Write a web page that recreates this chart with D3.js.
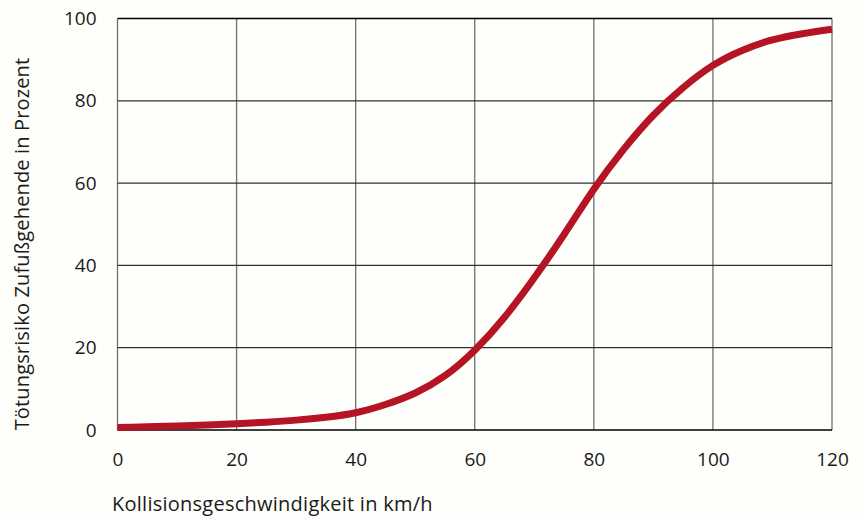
<!DOCTYPE html>
<html>
<head>
<meta charset="utf-8">
<script src="https://cdn.jsdelivr.net/npm/d3@7"></script>
<style>
  html, body { margin: 0; padding: 0; background: #fefefb; }
  svg { display: block; font-family: "Open Sans", sans-serif; }
</style>
</head>
<body>
<svg id="chart" width="860" height="517"></svg>
<script>
// speed in km/h and fatality risk in percent
const speeds = [0, 5, 10, 15, 20, 25, 30, 35, 40, 45, 50, 55, 60, 65, 70, 75, 80, 85, 90, 95, 100, 105, 110, 115, 120]
const risk = [0.6, 0.8, 1.0, 1.2, 1.5, 1.9, 2.4, 3.1, 4.2, 6.2, 9.0, 13.2, 19.4, 27.4, 37, 47.5, 58.5, 68.2, 76.5, 83.2, 88.6, 92.3, 94.8, 96.3, 97.4]

const xTicks = [0, 20, 40, 60, 80, 100, 120]
const yTicks = [0, 20, 40, 60, 80, 100]

const xTitle = 'Kollisionsgeschwindigkeit in km/h'
const yTitle = 'Tötungsrisiko Zufußgehende in Prozent'

const svg = d3.select('#chart')

const plotLeft = 117.5
const plotRight = 832
const plotTop = 18.5
const plotBottom = 430

const x = d3.scaleLinear().domain([0, 120]).range([plotLeft, plotRight])
const y = d3.scaleLinear().domain([0, 100]).range([plotBottom, plotTop])

// vertical grid lines (grey)
svg.append('g')
    .selectAll('line')
    .data(xTicks)
    .join('line')
    .attr('x1', d => x(d))
    .attr('x2', d => x(d))
    .attr('y1', plotTop)
    .attr('y2', plotBottom)
    .attr('stroke', '#707070')
    .attr('stroke-width', 1.3)

// horizontal grid lines (darker), top and bottom black
svg.append('g')
    .selectAll('line')
    .data(yTicks)
    .join('line')
    .attr('x1', plotLeft)
    .attr('x2', plotRight)
    .attr('y1', d => y(d))
    .attr('y2', d => y(d))
    .attr('stroke', d => (d == 0 || d == 100) ? '#000' : '#303030')
    .attr('stroke-width', 1.3)

// tick labels
svg.append('g')
    .attr('transform', 'translate(0,' + plotBottom + ')')
    .call(d3.axisBottom(x).tickValues(xTicks).tickSize(0).tickPadding(23))
    .call(g => g.select('.domain').remove())
    .selectAll('text')
    .attr('font-size', 19)
    .attr('font-family', '"Open Sans", sans-serif')
    .attr('fill', '#1a1a1a')

svg.append('g')
    .attr('transform', 'translate(' + plotLeft + ',0)')
    .call(d3.axisLeft(y).tickValues(yTicks).tickSize(0).tickPadding(21))
    .call(g => g.select('.domain').remove())
    .selectAll('text')
    .attr('font-size', 19)
    .attr('font-family', '"Open Sans", sans-serif')
    .attr('fill', '#1a1a1a')

// the curve
const line = d3.line()
    .x((d, i) => x(speeds[i]))
    .y(d => y(d))
    .curve(d3.curveNatural)

svg.append('path')
    .datum(risk)
    .attr('d', line)
    .attr('fill', 'none')
    .attr('stroke', '#b51424')
    .attr('stroke-width', 7)

// axis titles
svg.append('text')
    .attr('x', 112)
    .attr('y', 511)
    .attr('font-size', 20)
    .attr('letter-spacing', 0.25)
    .attr('fill', '#1a1a1a')
    .text(xTitle)

svg.append('text')
    .attr('transform', 'translate(29,244) rotate(-90)')
    .attr('text-anchor', 'middle')
    .attr('font-size', 20)
    .attr('letter-spacing', 0.15)
    .attr('fill', '#1a1a1a')
    .text(yTitle)
</script>
</body>
</html>
